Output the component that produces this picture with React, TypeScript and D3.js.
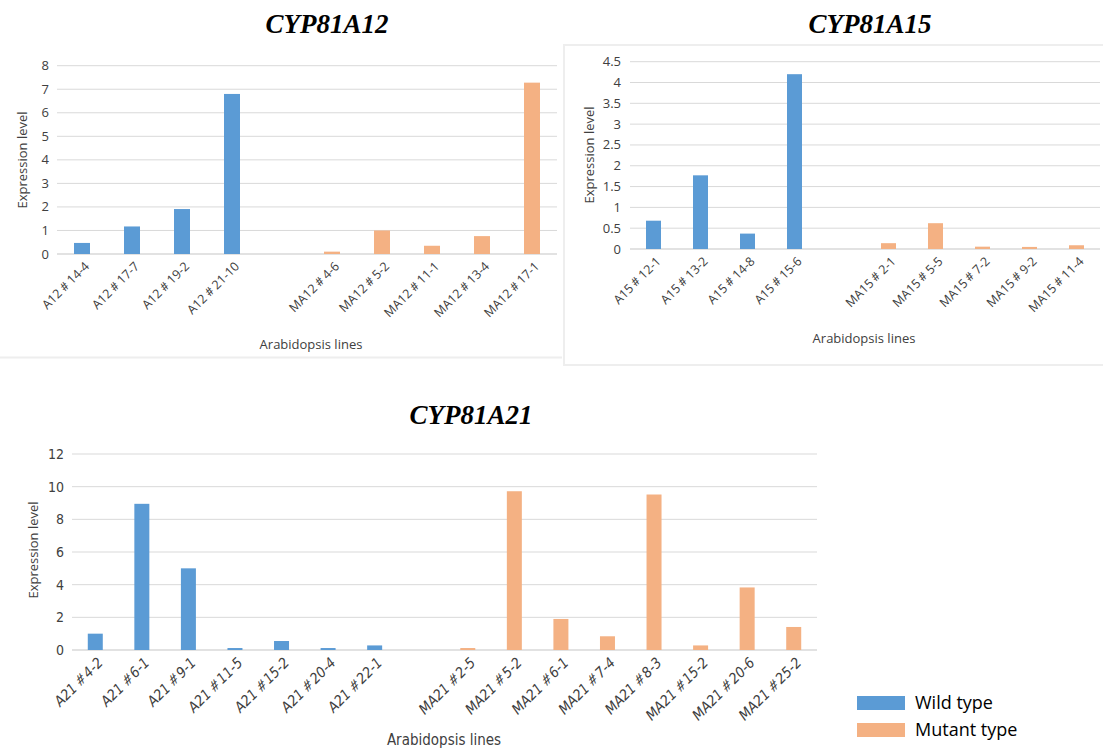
import React from "react";
import * as d3 from "d3";

// ---------- DATA ----------
const a12Wild = ["A12＃14-4", "A12＃17-7", "A12＃19-2", "A12＃21-10"];
const a12WildValues = [0.47, 1.17, 1.91, 6.8];
const a12Mutant = ["MA12＃4-6", "MA12＃5-2", "MA12＃11-1", "MA12＃13-4", "MA12＃17-1"];
const a12MutantValues = [0.1, 1.0, 0.35, 0.76, 7.28];
const a12Ticks = [0, 1, 2, 3, 4, 5, 6, 7, 8];

const a15Wild = ["A15＃12-1", "A15＃13-2", "A15＃14-8", "A15＃15-6"];
const a15WildValues = [0.68, 1.77, 0.37, 4.2];
const a15Mutant = ["MA15＃2-1", "MA15＃5-5", "MA15＃7-2", "MA15＃9-2", "MA15＃11-4"];
const a15MutantValues = [0.14, 0.62, 0.056, 0.05, 0.09];
const a15Ticks = [0, 0.5, 1, 1.5, 2, 2.5, 3, 3.5, 4, 4.5];

const a21Wild = ["A21＃4-2", "A21＃6-1", "A21＃9-1", "A21＃11-5", "A21＃15-2", "A21＃20-4", "A21＃22-1"];
const a21WildValues = [1.0, 8.95, 5.0, 0.12, 0.55, 0.12, 0.28];
const a21Mutant = ["MA21＃2-5", "MA21＃5-2", "MA21＃6-1", "MA21＃7-4", "MA21＃8-3", "MA21＃15-2", "MA21＃20-6", "MA21＃25-2"];
const a21MutantValues = [0.12, 9.72, 1.9, 0.84, 9.52, 0.28, 3.83, 1.41];
const a21Ticks = [0, 2, 4, 6, 8, 10, 12];

const seriesNames = ["Wild type", "Mutant type"];
const WILD = "#5B9BD5";
const MUTANT = "#F4B183";
const GRID = "#D9D9D9";

type PanelProps = {
  title: string;
  wild: string[];
  wildValues: number[];
  mutant: string[];
  mutantValues: number[];
  ticks: number[];
  x0: number;
  x1: number;
  yTop: number;
  yBottom: number;
  barW: number;
  titleX: number;
  titleY: number;
  yLabelX: number;
  yLabelY: number;
  tickLabelX: number;
  xTitleX: number;
  xTitleY: number;
  font: string;
  tickFont: string;
  tickSize: number;
  catFont: string;
  catSize: number;
  catItalic: boolean;
  yLabelFont: string;
  xTitleFont: string;
};

function Panel(p: PanelProps) {
  const keys = [...p.wild, "__gap", ...p.mutant];
  const x = d3.scaleBand<string>().domain(keys).range([p.x0, p.x1]);
  const yMax = p.ticks[p.ticks.length - 1];
  const y = d3.scaleLinear().domain([0, yMax]).range([p.yBottom, p.yTop]);
  const bw = x.bandwidth();
  const bars = [
    ...p.wild.map((k, i) => ({ k, v: p.wildValues[i], c: WILD })),
    ...p.mutant.map((k, i) => ({ k, v: p.mutantValues[i], c: MUTANT })),
  ];
  return (
    <g>
      <text
        x={p.titleX}
        y={p.titleY}
        textAnchor="middle"
        fontFamily="'Liberation Serif', 'Times New Roman', serif"
        fontWeight="bold"
        fontStyle="italic"
        fontSize={27}
        fill="#000"
      >
        {p.title}
      </text>
      {p.ticks.map((t) => (
        <g key={t}>
          <line x1={p.x0} x2={p.x1} y1={y(t)} y2={y(t)} stroke={GRID} strokeWidth={t === 0 ? 1.5 : 1} />
          <text
            x={p.tickLabelX}
            y={y(t)}
            dy="0.35em"
            textAnchor="end"
            fontFamily={p.tickFont}
            fontSize={p.tickSize}
            fill="#404040"
          >
            {String(t)}
          </text>
        </g>
      ))}
      {bars.map((b) => (
        <rect
          key={b.k}
          x={(x(b.k) as number) + bw / 2 - p.barW / 2}
          y={y(b.v)}
          width={p.barW}
          height={y(0) - y(b.v)}
          fill={b.c}
        />
      ))}
      {bars.map((b) => {
        const cx = (x(b.k) as number) + bw / 2 + 5;
        const cy = p.yBottom + 10;
        return (
          <text
            key={"l" + b.k}
            transform={`translate(${cx},${cy}) rotate(-45)`}
            textAnchor="end"
            dy="0.35em"
            fontFamily={p.catFont}
            fontStyle={p.catItalic ? "italic" : "normal"}
            fontSize={p.catSize}
            fill="#404040"
          >
            {b.k}
          </text>
        );
      })}
      <text
        transform={`translate(${p.yLabelX},${p.yLabelY}) rotate(-90)`}
        textAnchor="middle"
        fontFamily={p.yLabelFont}
        fontSize={13}
        fill="#404040"
      >
        Expression level
      </text>
      <text
        x={p.xTitleX}
        y={p.xTitleY}
        textAnchor="middle"
        fontFamily={p.xTitleFont}
        fontSize={p.xTitleFont.includes("Narrow") ? 15 : 13}
        fill="#404040"
      >
        Arabidopsis lines
      </text>
    </g>
  );
}

const SANS = "'Open Sans', 'Noto Sans', sans-serif";
const NARROW = "'Liberation Sans Narrow', 'DejaVu Sans Condensed', sans-serif";

export default function App() {
  return (
    <svg
      width={1103}
      height={751}
      style={{ position: "absolute", left: 0, top: 0, background: "#fff" }}
    >
      <rect x={0} y={0} width={1103} height={751} fill="#fff" />
      {/* faint chart borders */}
      <line x1={0} x2={562} y1={357.5} y2={357.5} stroke="#EEEEEE" strokeWidth={2} />
      <rect x={564} y={45} width={545} height={320} fill="none" stroke="#EEEEEE" strokeWidth={2} />

      <Panel
        title="CYP81A12"
        wild={a12Wild}
        wildValues={a12WildValues}
        mutant={a12Mutant}
        mutantValues={a12MutantValues}
        ticks={a12Ticks}
        x0={57}
        x1={557}
        yTop={65.7}
        yBottom={254}
        barW={16}
        titleX={327}
        titleY={33}
        yLabelX={27}
        yLabelY={160}
        tickLabelX={49}
        xTitleX={311}
        xTitleY={349}
        font={SANS}
        tickFont={SANS}
        tickSize={13}
        catFont={SANS}
        catSize={12.5}
        catItalic={false}
        yLabelFont={SANS}
        xTitleFont={SANS}
      />
      <Panel
        title="CYP81A15"
        wild={a15Wild}
        wildValues={a15WildValues}
        mutant={a15Mutant}
        mutantValues={a15MutantValues}
        ticks={a15Ticks}
        x0={630}
        x1={1100}
        yTop={61.7}
        yBottom={249}
        barW={15}
        titleX={870}
        titleY={33}
        yLabelX={594}
        yLabelY={155}
        tickLabelX={621}
        xTitleX={864}
        xTitleY={343}
        font={SANS}
        tickFont={SANS}
        tickSize={13}
        catFont={SANS}
        catSize={12.5}
        catItalic={false}
        yLabelFont={SANS}
        xTitleFont={SANS}
      />
      <Panel
        title="CYP81A21"
        wild={a21Wild}
        wildValues={a21WildValues}
        mutant={a21Mutant}
        mutantValues={a21MutantValues}
        ticks={a21Ticks}
        x0={72}
        x1={817}
        yTop={454}
        yBottom={650}
        barW={15}
        titleX={471}
        titleY={424}
        yLabelX={38}
        yLabelY={550}
        tickLabelX={64}
        xTitleX={444}
        xTitleY={745}
        font={NARROW}
        tickFont={NARROW}
        tickSize={14}
        catFont={NARROW}
        catSize={14.5}
        catItalic={true}
        yLabelFont={SANS}
        xTitleFont={NARROW}
      />

      {/* legend */}
      {seriesNames.map((name, i) => (
        <g key={name}>
          <rect x={857} y={696 + i * 27} width={48} height={14} fill={i === 0 ? WILD : MUTANT} />
          <text x={915} y={709 + i * 27} fontFamily={SANS} fontSize={18} fill="#000">
            {name}
          </text>
        </g>
      ))}
    </svg>
  );
}
